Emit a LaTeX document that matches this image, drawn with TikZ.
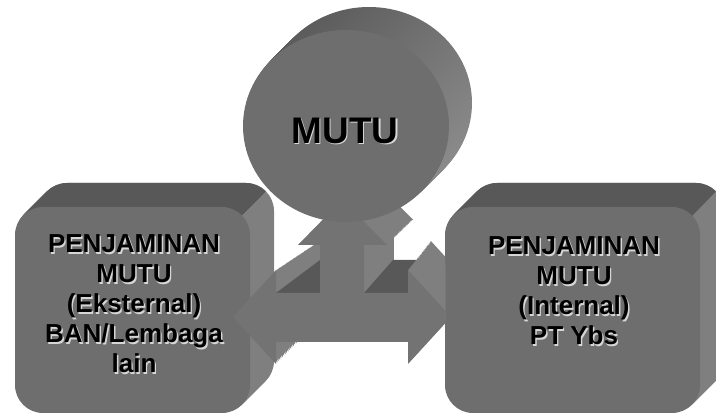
\documentclass[tikz,border=0pt]{standalone}
\usepackage{fontspec}
\setmainfont{Liberation Sans}

\definecolor{faceg}{HTML}{6E6E6E}
\definecolor{topg}{HTML}{585858}
\definecolor{sideg}{HTML}{7F7F7F}
\definecolor{arrowg}{HTML}{737373}
\definecolor{cyldark}{HTML}{5C5C5C}
\definecolor{cyllight}{HTML}{8A8A8A}
\definecolor{glowg}{HTML}{D6D6D6}

% outline of the T shaped block arrow (pixel coordinates, y downwards)
\newcommand{\teearrow}{(342,200) -- (387,245) -- (364,245) -- (364,293) -- (408,293) -- (408,270)
  -- (451,317) -- (408,364) -- (408,342) -- (276,342) -- (276,364) -- (233,317) -- (276,270)
  -- (276,293) -- (320,293) -- (320,245) -- (298,245) -- cycle}

\begin{document}
\begin{tikzpicture}[x=1pt, y=-1pt,
  boxfront/.style={fill=faceg, rounded corners=28pt},
  boxside/.style={fill=sideg, rounded corners=28pt},
  boxtop/.style={fill=topg, rounded corners=28pt},
  lbl/.style={font=\bfseries\fontsize{26}{30}\selectfont, align=center, inner sep=0pt},
  biglbl/.style={font=\bfseries\fontsize{37}{40}\selectfont, inner sep=0pt}]
\useasboundingbox (0,0) rectangle (716,414);

% the two boxes
\foreach \x/\w in {15/235, 445/255} {
  \foreach \i in {24,...,1}
    \fill[boxside] (\x+\i,207-\i) rectangle ++(\w,206);
  \begin{scope}
    \clip (\x+\w-428,635) -- (\x+\w+372,-165) -- (\x+\w-428,-165) -- cycle;
    \foreach \i in {24,...,1}
      \fill[boxtop] (\x+\i,207-\i) rectangle ++(\w,206);
  \end{scope}
  \fill[boxfront] (\x,207) rectangle ++(\w,206);
}

% block arrow between the boxes, its depth shrinks towards (550,88)
\begin{scope}
  \clip (0,0) rectangle (445,414);
  \foreach \i in {32,...,1} {
    \pgfmathsetmacro\k{1-\i*0.005}
    \fill[sideg, shift={(550,88)}, scale=\k, shift={(-550,-88)}] \teearrow;
  }
  \fill[topg] (276,293) -- (320,293) -- (320,260) -- cycle;
  \fill[topg] (364,293) -- (408,293) -- (408,270) -- (416,260) -- (393,260) -- cycle;
  \fill[arrowg] \teearrow;
\end{scope}

% cylinder
\foreach \i in {23,...,1}
  \shade[top color=cyldark, bottom color=cyllight, shading angle=45]
    (346+\i,126-\i) ellipse [x radius=103, y radius=96];
\fill[faceg] (346,126) ellipse [x radius=103, y radius=96];

% labels with a light shadow
\foreach \s/\c in {1.4/glowg, 0/black} {
  \node[biglbl, text=\c] (mutu) at (345+\s,131+\s) {MUTU};
  \node[lbl, text=\c] (eksternal) at (134+\s,304+\s)
    {PENJAMINAN\\MUTU\\(Eksternal)\\BAN/Lembaga\\lain};
  \node[lbl, text=\c] (internal) at (574+\s,291+\s)
    {PENJAMINAN\\MUTU\\(Internal)\\PT Ybs};
}
\end{tikzpicture}
\end{document}
